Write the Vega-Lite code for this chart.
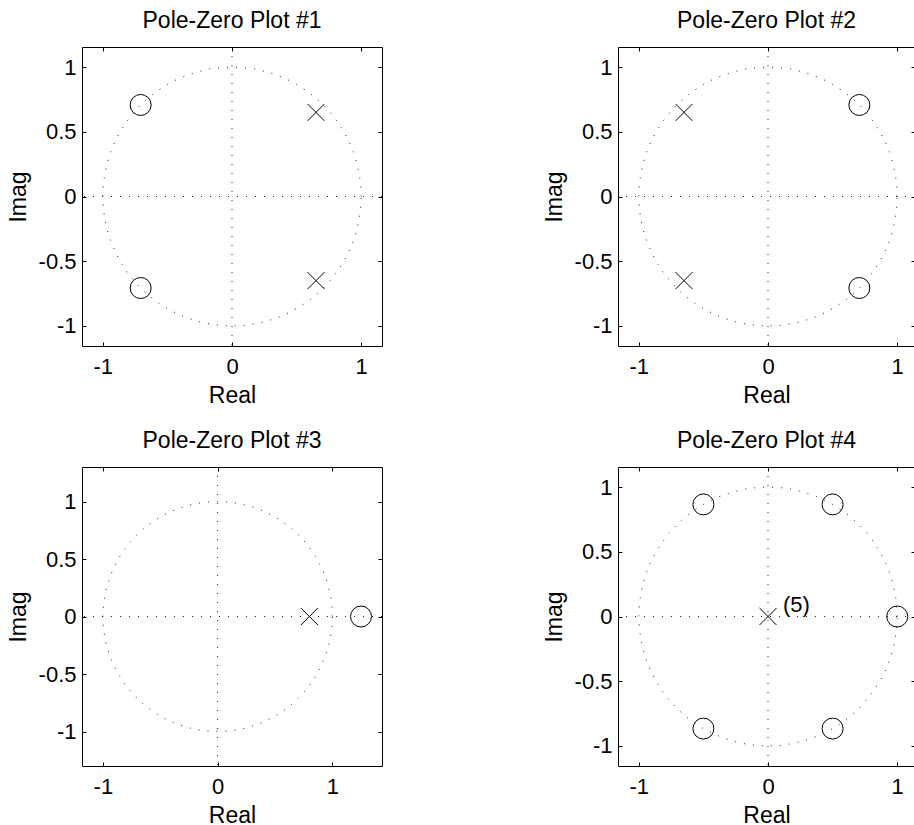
{
  "$schema": "https://vega.github.io/schema/vega-lite/v6.json",
  "padding": {"left": 6, "top": 9, "right": 0, "bottom": 0},
  "background": "white",
  "columns": 2,
  "align": "each",
  "spacing": {"row": 21, "column": 159},
  "datasets": {
    "circle": [
      {"o":0,"re":1,"im":0},{"o":5,"re":0.9962,"im":0.0872},{"o":10,"re":0.9848,"im":0.1736},{"o":15,"re":0.9659,"im":0.2588},{"o":20,"re":0.9397,"im":0.342},{"o":25,"re":0.9063,"im":0.4226},{"o":30,"re":0.866,"im":0.5},{"o":35,"re":0.8192,"im":0.5736},{"o":40,"re":0.766,"im":0.6428},{"o":45,"re":0.7071,"im":0.7071},{"o":50,"re":0.6428,"im":0.766},{"o":55,"re":0.5736,"im":0.8192},{"o":60,"re":0.5,"im":0.866},{"o":65,"re":0.4226,"im":0.9063},{"o":70,"re":0.342,"im":0.9397},{"o":75,"re":0.2588,"im":0.9659},{"o":80,"re":0.1736,"im":0.9848},{"o":85,"re":0.0872,"im":0.9962},{"o":90,"re":0,"im":1},
      {"o":95,"re":-0.0872,"im":0.9962},{"o":100,"re":-0.1736,"im":0.9848},{"o":105,"re":-0.2588,"im":0.9659},{"o":110,"re":-0.342,"im":0.9397},{"o":115,"re":-0.4226,"im":0.9063},{"o":120,"re":-0.5,"im":0.866},{"o":125,"re":-0.5736,"im":0.8192},{"o":130,"re":-0.6428,"im":0.766},{"o":135,"re":-0.7071,"im":0.7071},{"o":140,"re":-0.766,"im":0.6428},{"o":145,"re":-0.8192,"im":0.5736},{"o":150,"re":-0.866,"im":0.5},{"o":155,"re":-0.9063,"im":0.4226},{"o":160,"re":-0.9397,"im":0.342},{"o":165,"re":-0.9659,"im":0.2588},{"o":170,"re":-0.9848,"im":0.1736},{"o":175,"re":-0.9962,"im":0.0872},{"o":180,"re":-1,"im":0},
      {"o":185,"re":-0.9962,"im":-0.0872},{"o":190,"re":-0.9848,"im":-0.1736},{"o":195,"re":-0.9659,"im":-0.2588},{"o":200,"re":-0.9397,"im":-0.342},{"o":205,"re":-0.9063,"im":-0.4226},{"o":210,"re":-0.866,"im":-0.5},{"o":215,"re":-0.8192,"im":-0.5736},{"o":220,"re":-0.766,"im":-0.6428},{"o":225,"re":-0.7071,"im":-0.7071},{"o":230,"re":-0.6428,"im":-0.766},{"o":235,"re":-0.5736,"im":-0.8192},{"o":240,"re":-0.5,"im":-0.866},{"o":245,"re":-0.4226,"im":-0.9063},{"o":250,"re":-0.342,"im":-0.9397},{"o":255,"re":-0.2588,"im":-0.9659},{"o":260,"re":-0.1736,"im":-0.9848},{"o":265,"re":-0.0872,"im":-0.9962},{"o":270,"re":0,"im":-1},
      {"o":275,"re":0.0872,"im":-0.9962},{"o":280,"re":0.1736,"im":-0.9848},{"o":285,"re":0.2588,"im":-0.9659},{"o":290,"re":0.342,"im":-0.9397},{"o":295,"re":0.4226,"im":-0.9063},{"o":300,"re":0.5,"im":-0.866},{"o":305,"re":0.5736,"im":-0.8192},{"o":310,"re":0.6428,"im":-0.766},{"o":315,"re":0.7071,"im":-0.7071},{"o":320,"re":0.766,"im":-0.6428},{"o":325,"re":0.8192,"im":-0.5736},{"o":330,"re":0.866,"im":-0.5},{"o":335,"re":0.9063,"im":-0.4226},{"o":340,"re":0.9397,"im":-0.342},{"o":345,"re":0.9659,"im":-0.2588},{"o":350,"re":0.9848,"im":-0.1736},{"o":355,"re":0.9962,"im":-0.0872},{"o":360,"re":1,"im":0}
    ],
    "pz": [
      {"panel":1,"kind":"zero","re":-0.7071,"im":0.7071},
      {"panel":1,"kind":"zero","re":-0.7071,"im":-0.7071},
      {"panel":1,"kind":"pole","re":0.65,"im":0.65},
      {"panel":1,"kind":"pole","re":0.65,"im":-0.65},
      {"panel":2,"kind":"zero","re":0.7071,"im":0.7071},
      {"panel":2,"kind":"zero","re":0.7071,"im":-0.7071},
      {"panel":2,"kind":"pole","re":-0.65,"im":0.65},
      {"panel":2,"kind":"pole","re":-0.65,"im":-0.65},
      {"panel":3,"kind":"pole","re":0.8,"im":0},
      {"panel":3,"kind":"zero","re":1.25,"im":0},
      {"panel":4,"kind":"pole","re":0,"im":0,"label":"(5)"},
      {"panel":4,"kind":"zero","re":1,"im":0},
      {"panel":4,"kind":"zero","re":0.5,"im":0.866},
      {"panel":4,"kind":"zero","re":0.5,"im":-0.866},
      {"panel":4,"kind":"zero","re":-0.5,"im":0.866},
      {"panel":4,"kind":"zero","re":-0.5,"im":-0.866}
    ]
  },
  "concat": [
    {
      "title": "Pole-Zero Plot #1",
      "width": 300, "height": 299,
      "resolve": {"axis": {"x": "independent", "y": "independent"}},
      "layer": [
        {"data": {"name": "circle"}, "mark": {"type": "line", "stroke": "#222", "strokeWidth": 1, "strokeDash": [1, 8]},
         "encoding": {"x": {"field": "re", "type": "quantitative", "scale": {"domain": [-1.161, 1.161], "nice": false, "zero": false}, "axis": {"title": "Real", "values": [-1, 0, 1]}},
                      "y": {"field": "im", "type": "quantitative", "scale": {"domain": [-1.155, 1.155], "nice": false, "zero": false}, "axis": {"title": "Imag", "values": [-1, -0.5, 0, 0.5, 1]}},
                      "order": {"field": "o", "type": "quantitative"}}},
        {"data": {"values": [{}]}, "mark": {"type": "rule", "stroke": "#222", "strokeWidth": 1, "strokeDash": [1, 8]},
         "encoding": {"x": {"datum": 0, "type": "quantitative", "scale": {"domain": [-1.161, 1.161], "nice": false, "zero": false}, "axis": null}}},
        {"data": {"values": [{}]}, "mark": {"type": "rule", "stroke": "#222", "strokeWidth": 1, "strokeDash": [1, 8]},
         "encoding": {"y": {"datum": 0, "type": "quantitative", "scale": {"domain": [-1.155, 1.155], "nice": false, "zero": false}, "axis": null}}},
        {"data": {"name": "pz"}, "transform": [{"filter": "datum.panel == 1"}],
         "mark": {"type": "point", "filled": false, "stroke": "black", "strokeWidth": 1, "opacity": 1},
         "encoding": {"x": {"field": "re", "type": "quantitative", "scale": {"domain": [-1.161, 1.161], "nice": false, "zero": false}, "axis": {"orient": "top", "labels": false, "title": null, "values": [-1, 0, 1]}},
                      "y": {"field": "im", "type": "quantitative", "scale": {"domain": [-1.155, 1.155], "nice": false, "zero": false}, "axis": {"orient": "right", "labels": false, "title": null, "values": [-1, -0.5, 0, 0.5, 1]}},
                      "shape": {"field": "kind", "type": "nominal", "scale": {"domain": ["zero", "pole"], "range": ["circle", "M-1,-1L1,1M-1,1L1,-1"]}, "legend": null},
                      "size": {"field": "kind", "type": "ordinal", "scale": {"domain": ["zero", "pole"], "range": [441, 289]}, "legend": null}}}
      ]
    },
    {
      "title": "Pole-Zero Plot #2",
      "width": 297, "height": 299,
      "resolve": {"axis": {"x": "independent", "y": "independent"}},
      "layer": [
        {"data": {"name": "circle"}, "mark": {"type": "line", "stroke": "#222", "strokeWidth": 1, "strokeDash": [1, 8]},
         "encoding": {"x": {"field": "re", "type": "quantitative", "scale": {"domain": [-1.161, 1.1377], "nice": false, "zero": false}, "axis": {"title": "Real", "values": [-1, 0, 1]}},
                      "y": {"field": "im", "type": "quantitative", "scale": {"domain": [-1.155, 1.155], "nice": false, "zero": false}, "axis": {"title": "Imag", "values": [-1, -0.5, 0, 0.5, 1]}},
                      "order": {"field": "o", "type": "quantitative"}}},
        {"data": {"values": [{}]}, "mark": {"type": "rule", "stroke": "#222", "strokeWidth": 1, "strokeDash": [1, 8]},
         "encoding": {"x": {"datum": 0, "type": "quantitative", "scale": {"domain": [-1.161, 1.1377], "nice": false, "zero": false}, "axis": null}}},
        {"data": {"values": [{}]}, "mark": {"type": "rule", "stroke": "#222", "strokeWidth": 1, "strokeDash": [1, 8]},
         "encoding": {"y": {"datum": 0, "type": "quantitative", "scale": {"domain": [-1.155, 1.155], "nice": false, "zero": false}, "axis": null}}},
        {"data": {"name": "pz"}, "transform": [{"filter": "datum.panel == 2"}],
         "mark": {"type": "point", "filled": false, "stroke": "black", "strokeWidth": 1, "opacity": 1},
         "encoding": {"x": {"field": "re", "type": "quantitative", "scale": {"domain": [-1.161, 1.1377], "nice": false, "zero": false}, "axis": {"orient": "top", "labels": false, "title": null, "values": [-1, 0, 1]}},
                      "y": {"field": "im", "type": "quantitative", "scale": {"domain": [-1.155, 1.155], "nice": false, "zero": false}, "axis": {"orient": "right", "labels": false, "title": null, "values": [-1, -0.5, 0, 0.5, 1]}},
                      "shape": {"field": "kind", "type": "nominal", "scale": {"domain": ["zero", "pole"], "range": ["circle", "M-1,-1L1,1M-1,1L1,-1"]}, "legend": null},
                      "size": {"field": "kind", "type": "ordinal", "scale": {"domain": ["zero", "pole"], "range": [441, 289]}, "legend": null}}}
      ]
    },
    {
      "title": "Pole-Zero Plot #3",
      "width": 300, "height": 299,
      "resolve": {"axis": {"x": "independent", "y": "independent"}},
      "layer": [
        {"data": {"name": "circle"}, "mark": {"type": "line", "stroke": "#222", "strokeWidth": 1, "strokeDash": [1, 8]},
         "encoding": {"x": {"field": "re", "type": "quantitative", "scale": {"domain": [-1.182, 1.433], "nice": false, "zero": false}, "axis": {"title": "Real", "values": [-1, 0, 1]}},
                      "y": {"field": "im", "type": "quantitative", "scale": {"domain": [-1.3, 1.3], "nice": false, "zero": false}, "axis": {"title": "Imag", "values": [-1, -0.5, 0, 0.5, 1]}},
                      "order": {"field": "o", "type": "quantitative"}}},
        {"data": {"values": [{}]}, "mark": {"type": "rule", "stroke": "#222", "strokeWidth": 1, "strokeDash": [1, 8]},
         "encoding": {"x": {"datum": 0, "type": "quantitative", "scale": {"domain": [-1.182, 1.433], "nice": false, "zero": false}, "axis": null}}},
        {"data": {"values": [{}]}, "mark": {"type": "rule", "stroke": "#222", "strokeWidth": 1, "strokeDash": [1, 8]},
         "encoding": {"y": {"datum": 0, "type": "quantitative", "scale": {"domain": [-1.3, 1.3], "nice": false, "zero": false}, "axis": null}}},
        {"data": {"name": "pz"}, "transform": [{"filter": "datum.panel == 3"}],
         "mark": {"type": "point", "filled": false, "stroke": "black", "strokeWidth": 1, "opacity": 1},
         "encoding": {"x": {"field": "re", "type": "quantitative", "scale": {"domain": [-1.182, 1.433], "nice": false, "zero": false}, "axis": {"orient": "top", "labels": false, "title": null, "values": [-1, 0, 1]}},
                      "y": {"field": "im", "type": "quantitative", "scale": {"domain": [-1.3, 1.3], "nice": false, "zero": false}, "axis": {"orient": "right", "labels": false, "title": null, "values": [-1, -0.5, 0, 0.5, 1]}},
                      "shape": {"field": "kind", "type": "nominal", "scale": {"domain": ["zero", "pole"], "range": ["circle", "M-1,-1L1,1M-1,1L1,-1"]}, "legend": null},
                      "size": {"field": "kind", "type": "ordinal", "scale": {"domain": ["zero", "pole"], "range": [441, 289]}, "legend": null}}}
      ]
    },
    {
      "title": "Pole-Zero Plot #4",
      "width": 297, "height": 299,
      "resolve": {"axis": {"x": "independent", "y": "independent"}},
      "layer": [
        {"data": {"name": "circle"}, "mark": {"type": "line", "stroke": "#222", "strokeWidth": 1, "strokeDash": [1, 8]},
         "encoding": {"x": {"field": "re", "type": "quantitative", "scale": {"domain": [-1.161, 1.1377], "nice": false, "zero": false}, "axis": {"title": "Real", "values": [-1, 0, 1]}},
                      "y": {"field": "im", "type": "quantitative", "scale": {"domain": [-1.155, 1.155], "nice": false, "zero": false}, "axis": {"title": "Imag", "values": [-1, -0.5, 0, 0.5, 1]}},
                      "order": {"field": "o", "type": "quantitative"}}},
        {"data": {"values": [{}]}, "mark": {"type": "rule", "stroke": "#222", "strokeWidth": 1, "strokeDash": [1, 8]},
         "encoding": {"x": {"datum": 0, "type": "quantitative", "scale": {"domain": [-1.161, 1.1377], "nice": false, "zero": false}, "axis": null}}},
        {"data": {"values": [{}]}, "mark": {"type": "rule", "stroke": "#222", "strokeWidth": 1, "strokeDash": [1, 8]},
         "encoding": {"y": {"datum": 0, "type": "quantitative", "scale": {"domain": [-1.155, 1.155], "nice": false, "zero": false}, "axis": null}}},
        {"data": {"name": "pz"}, "transform": [{"filter": "datum.panel == 4"}],
         "mark": {"type": "point", "filled": false, "stroke": "black", "strokeWidth": 1, "opacity": 1},
         "encoding": {"x": {"field": "re", "type": "quantitative", "scale": {"domain": [-1.161, 1.1377], "nice": false, "zero": false}, "axis": {"orient": "top", "labels": false, "title": null, "values": [-1, 0, 1]}},
                      "y": {"field": "im", "type": "quantitative", "scale": {"domain": [-1.155, 1.155], "nice": false, "zero": false}, "axis": {"orient": "right", "labels": false, "title": null, "values": [-1, -0.5, 0, 0.5, 1]}},
                      "shape": {"field": "kind", "type": "nominal", "scale": {"domain": ["zero", "pole"], "range": ["circle", "M-1,-1L1,1M-1,1L1,-1"]}, "legend": null},
                      "size": {"field": "kind", "type": "ordinal", "scale": {"domain": ["zero", "pole"], "range": [441, 289]}, "legend": null}}},
        {"data": {"name": "pz"}, "transform": [{"filter": "datum.panel == 4 && isValid(datum.label)"}],
         "mark": {"type": "text", "align": "left", "baseline": "alphabetic", "dx": 15, "dy": -5, "fontSize": 22, "font": "Liberation Sans", "color": "black"},
         "encoding": {"x": {"field": "re", "type": "quantitative", "scale": {"domain": [-1.161, 1.1377], "nice": false, "zero": false}, "axis": null},
                      "y": {"field": "im", "type": "quantitative", "scale": {"domain": [-1.155, 1.155], "nice": false, "zero": false}, "axis": null},
                      "text": {"field": "label"}}}
      ]
    }
  ],
  "config": {
    "font": "Liberation Sans",
    "view": {"stroke": "black", "strokeWidth": 1},
    "axis": {
      "labelFont": "Liberation Sans", "labelFontSize": 22, "labelColor": "black",
      "titleFont": "Liberation Sans", "titleFontSize": 23, "titleFontWeight": "normal", "titleColor": "black",
      "tickColor": "black", "tickSize": -4, "tickWidth": 1, "domain": false, "grid": false,
      "labelOverlap": false, "labelFlush": false,
      "labelExpr": "datum.value < 0 ? '-' + (-datum.value) : '' + datum.value"
    },
    "axisBottom": {"labelPadding": 14, "titlePadding": 7.5},
    "axisLeft": {"labelPadding": 10, "titlePadding": 8},
    "title": {"font": "Liberation Sans", "fontSize": 23, "fontWeight": "normal", "color": "black", "baseline": "alphabetic", "offset": 14}
  }
}
